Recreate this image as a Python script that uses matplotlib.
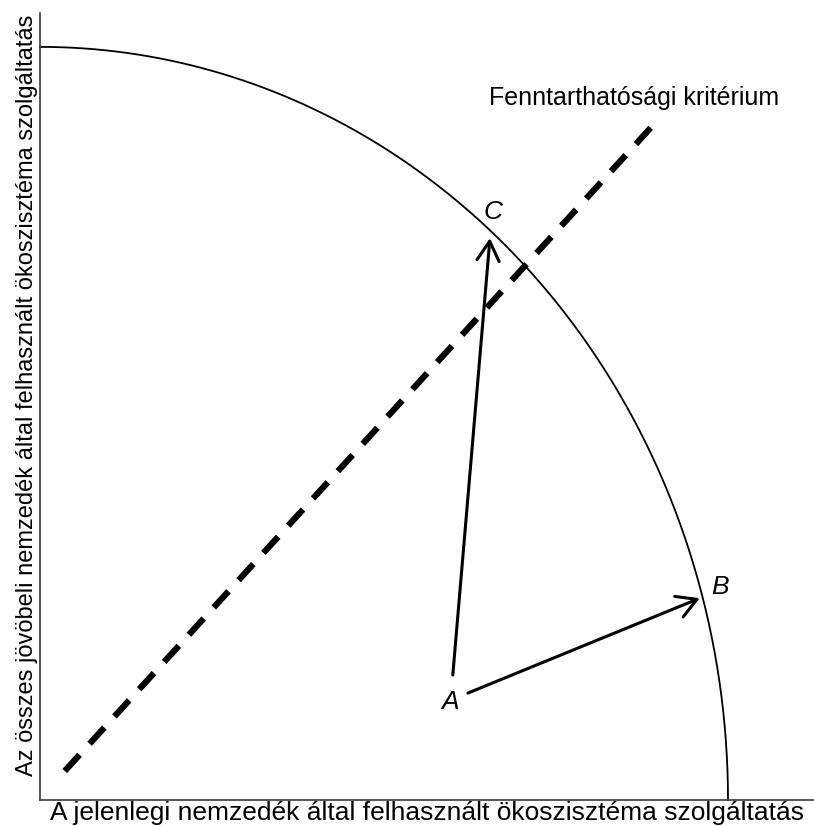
import numpy as np
import matplotlib.pyplot as plt

# Pixel layout of the reference: axes from x=40..814, y=13..800
FIG_W, FIG_H = 814, 826
AX_L, AX_R, AX_T, AX_B = 40, 814, 13, 800

# Data units: the frontier is a unit quarter-circle
x_max = 1.125
y_max = 1.045

# Production possibility frontier (quarter circle)
frontier_radius = 1.0

# Sustainability criterion (dashed diagonal)
crit_x = [0.036, 0.898]
crit_y = [0.0385, 0.903]

# Points
point_names = ["A", "B", "C"]
point_x = [0.596, 0.988, 0.658]
point_y = [0.130, 0.283, 0.781]

# Arrows (start -> end)
arrow_start = [(0.600, 0.166), (0.622, 0.142)]
arrow_end = [(0.654, 0.746), (0.959, 0.268)]

x_label = "A jelenlegi nemzedék által felhasznált ökoszisztéma szolgáltatás"
y_label = "Az összes jövöbeli nemzedék által felhasznált ökoszisztéma szolgáltatás"
crit_label = "Fenntarthatósági kritérium"

plt.rcParams["font.family"] = ["Liberation Sans", "DejaVu Sans"]

fig = plt.figure(figsize=(FIG_W / 100, FIG_H / 100), dpi=100)
ax = fig.add_axes([AX_L / FIG_W, (FIG_H - AX_B) / FIG_H,
                   (AX_R - AX_L) / FIG_W, (AX_B - AX_T) / FIG_H])
ax.set_xlim(0, x_max)
ax.set_ylim(0, y_max)

for side in ["top", "right"]:
    ax.spines[side].set_visible(False)
for side in ["left", "bottom"]:
    ax.spines[side].set_color("#3a3a3a")
    ax.spines[side].set_linewidth(1.2)
ax.set_xticks([])
ax.set_yticks([])

theta = np.linspace(0, np.pi / 2, 400)
ax.plot(frontier_radius * np.cos(theta), frontier_radius * np.sin(theta),
        color="black", linewidth=1.3, clip_on=False)

ax.plot(crit_x, crit_y, color="black", linewidth=4.5,
        dashes=(3.5, 2.4), solid_capstyle="butt", dash_capstyle="butt")

for (sx, sy), (ex, ey) in zip(arrow_start, arrow_end):
    ax.annotate("", xy=(ex, ey), xytext=(sx, sy),
                arrowprops=dict(arrowstyle="->,head_length=0.7,head_width=0.4",
                                lw=2.2, color="black",
                                shrinkA=0, shrinkB=0, mutation_scale=20))

for name, px, py in zip(point_names, point_x, point_y):
    ax.text(px, py, name, ha="center", va="center", fontsize=19,
            style="italic")

ax.text(634 / 688 - 40 / 688, 0.932, crit_label, ha="center", va="center",
        fontsize=18)

fig.text(427 / FIG_W, 1 - 820 / FIG_H, x_label, ha="center", va="baseline",
         fontsize=19)
fig.text(33 / FIG_W, 1 - 395 / FIG_H, y_label, ha="center", va="baseline",
         fontsize=17, rotation=90, rotation_mode="anchor")

fig.savefig("out.png", dpi=100)
